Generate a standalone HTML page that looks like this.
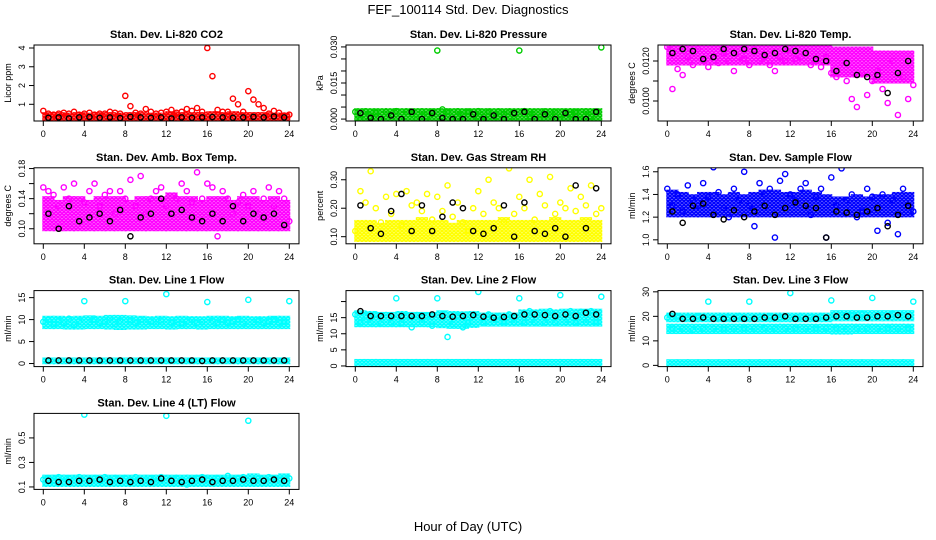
<!DOCTYPE html>
<html><head><meta charset="utf-8"><style>
html,body{margin:0;padding:0;background:#fff;}
svg{display:block;font-family:"Liberation Sans",Arial,sans-serif;}
</style></head><body>
<svg id="chart" width="936" height="540" viewBox="0 0 936 540" xmlns="http://www.w3.org/2000/svg">
<defs id="defs"></defs>
<text x="468" y="14" text-anchor="middle" font-size="13">FEF_100114  Std. Dev. Diagnostics</text>
<text x="468" y="531" text-anchor="middle" font-size="13">Hour of Day (UTC)</text>
</svg>
<script>
// ---- data (scatter sampled every 0.5 h from 0 to 24; black every hour 0.5..23.5; bands per hour) ----
const xTicks=[0,4,8,12,16,20,24];
const co2Pts=[0.65,0.5,0.45,0.5,0.55,0.5,0.6,0.45,0.5,0.55,0.45,0.5,0.5,0.6,0.55,0.5,1.45,0.9,0.55,0.5,0.75,0.6,0.5,0.55,0.6,0.7,0.55,0.6,0.75,0.65,0.8,0.6,4.0,2.5,0.7,0.6,0.6,1.3,1.0,0.6,1.7,1.25,1.0,0.8,0.5,0.65,0.55,0.4,0.45];
const co2Blk=[0.28,0.3,0.25,0.3,0.32,0.28,0.3,0.27,0.33,0.3,0.28,0.3,0.25,0.3,0.28,0.3,0.32,0.3,0.28,0.3,0.33,0.3,0.35,0.3];
const co2Lo=[0.18,0.18,0.18,0.18,0.18,0.18,0.18,0.18,0.18,0.18,0.18,0.18,0.18,0.18,0.18,0.18,0.18,0.18,0.18,0.18,0.18,0.18,0.18,0.18];
const co2Hi=[0.45,0.45,0.42,0.45,0.42,0.45,0.45,0.42,0.45,0.45,0.42,0.42,0.5,0.45,0.45,0.45,0.5,0.45,0.5,0.45,0.45,0.45,0.42,0.42];
const co2Ticks=[1,2,3,4];

const presPts=[0.003,0.0,0.0032,0.001,0.0028,0.0,0.003,0.0015,0.0033,0.0,0.003,0.002,0.0,0.0032,0.001,0.003,0.0285,0.004,0.003,0.0,0.0032,0.0015,0.003,0.0,0.0033,0.001,0.003,0.0,0.0031,0.002,0.003,0.0,0.0285,0.0033,0.001,0.003,0.0,0.0032,0.0015,0.003,0.0,0.0031,0.002,0.003,0.0,0.0032,0.001,0.003,0.0298];
const presBlk=[0.0025,0.0005,0.0,0.0015,0.0,0.003,0.0,0.0025,0.0005,0.0,0.0,0.002,0.0,0.0015,0.0,0.0025,0.003,0.0,0.002,0.0,0.0025,0.0,0.0,0.003];
const presLo=[0,0,0,0,0,0,0,0,0,0,0,0,0,0,0,0,0,0,0,0,0,0,0,0];
const presHi=[0.0035,0.0035,0.0035,0.0035,0.0035,0.0035,0.0035,0.0035,0.0035,0.0035,0.0035,0.0035,0.0035,0.0035,0.0035,0.0035,0.0035,0.0035,0.0035,0.0035,0.0035,0.0035,0.0035,0.0035];
const presTicks=[0,0.005,0.010,0.015,0.020,0.025,0.030];
const presLabels=["0.000","","","0.015","","","0.030"];

const tempPts=[0.0127,0.0106,0.0116,0.0113,0.0122,0.0118,0.0126,0.0120,0.0117,0.0122,0.0119,0.0124,0.0120,0.0115,0.0122,0.0121,0.0118,0.0126,0.0120,0.0122,0.0118,0.0115,0.0122,0.0120,0.0124,0.0121,0.0122,0.0124,0.0118,0.0120,0.0117,0.0122,0.0114,0.0112,0.0119,0.0110,0.0101,0.0097,0.0114,0.0103,0.0110,0.0115,0.0106,0.0099,0.0120,0.0093,0.0112,0.0101,0.0108];
const tempBlk=[0.0124,0.0126,0.0125,0.0121,0.0122,0.0126,0.0124,0.0126,0.0125,0.0123,0.0124,0.0126,0.0125,0.0124,0.0121,0.0120,0.0115,0.0119,0.0113,0.0112,0.0113,0.0104,0.0114,0.0120];
const tempLo=[0.0119,0.0119,0.0119,0.0119,0.0119,0.0119,0.0119,0.0119,0.0119,0.0119,0.0119,0.0119,0.0119,0.0119,0.0119,0.0119,0.0113,0.0113,0.0113,0.0113,0.0110,0.0110,0.0110,0.0110];
const tempHi=[0.0128,0.0128,0.0128,0.0128,0.0128,0.0128,0.0128,0.0128,0.0128,0.0128,0.0128,0.0128,0.0128,0.0128,0.0128,0.0128,0.0126,0.0126,0.0126,0.0126,0.0124,0.0124,0.0124,0.0124];
const tempTicks=[0.0100,0.0110,0.0120];
const tempLabels=["0.0100","","0.0120"];

const ambPts=[0.155,0.15,0.145,0.13,0.155,0.14,0.16,0.11,0.135,0.15,0.16,0.13,0.145,0.15,0.12,0.15,0.14,0.165,0.13,0.17,0.12,0.14,0.15,0.155,0.13,0.12,0.14,0.16,0.15,0.135,0.175,0.14,0.16,0.155,0.09,0.15,0.14,0.12,0.135,0.145,0.13,0.15,0.12,0.14,0.155,0.13,0.15,0.14,0.11];
const ambBlk=[0.12,0.1,0.13,0.11,0.115,0.12,0.11,0.125,0.09,0.115,0.12,0.14,0.12,0.125,0.115,0.11,0.12,0.11,0.13,0.11,0.12,0.115,0.12,0.105];
const ambLo=[0.1,0.1,0.1,0.1,0.1,0.1,0.1,0.1,0.1,0.1,0.1,0.1,0.1,0.1,0.1,0.1,0.1,0.1,0.1,0.1,0.1,0.1,0.1,0.1];
const ambHi=[0.14,0.135,0.14,0.14,0.135,0.14,0.14,0.14,0.135,0.14,0.14,0.14,0.145,0.14,0.14,0.135,0.14,0.14,0.135,0.14,0.14,0.135,0.14,0.135];
const ambTicks=[0.10,0.12,0.14,0.16,0.18];
const ambLabels=["0.10","","0.14","","0.18"];

const rhPts=[0.12,0.26,0.22,0.33,0.2,0.15,0.24,0.18,0.25,0.14,0.26,0.21,0.22,0.19,0.25,0.16,0.24,0.19,0.28,0.17,0.22,0.15,0.12,0.2,0.26,0.18,0.3,0.22,0.2,0.15,0.34,0.18,0.24,0.2,0.3,0.16,0.25,0.21,0.31,0.18,0.22,0.2,0.27,0.19,0.24,0.21,0.28,0.18,0.2];
const rhBlk=[0.21,0.13,0.11,0.19,0.25,0.12,0.21,0.12,0.17,0.22,0.2,0.12,0.11,0.13,0.21,0.1,0.22,0.12,0.11,0.13,0.1,0.28,0.13,0.27];
const rhLo=[0.09,0.09,0.09,0.09,0.09,0.09,0.09,0.09,0.09,0.09,0.09,0.09,0.09,0.09,0.09,0.09,0.09,0.09,0.09,0.09,0.09,0.09,0.09,0.09];
const rhHi=[0.15,0.15,0.14,0.15,0.15,0.15,0.16,0.15,0.15,0.14,0.15,0.15,0.15,0.15,0.16,0.15,0.15,0.15,0.15,0.16,0.15,0.15,0.16,0.15];
const rhTicks=[0.10,0.20,0.30];

const flowPts=[1.45,1.3,1.4,1.25,1.48,1.35,1.3,1.5,1.38,1.64,1.42,1.28,1.2,1.45,1.35,1.6,1.3,1.12,1.5,1.4,1.45,1.02,1.52,1.58,1.4,1.35,1.45,1.5,1.22,1.38,1.45,1.02,1.55,1.3,1.63,1.35,1.4,1.2,1.25,1.45,1.38,1.08,1.4,1.15,1.35,1.05,1.45,1.3,1.25];
const flowBlk=[1.25,1.15,1.3,1.32,1.22,1.18,1.26,1.2,1.25,1.3,1.22,1.28,1.33,1.3,1.28,1.02,1.25,1.24,1.22,1.25,1.28,1.12,1.22,1.3];
const flowLo=[1.22,1.22,1.22,1.22,1.22,1.22,1.22,1.22,1.22,1.22,1.22,1.22,1.22,1.22,1.22,1.22,1.22,1.22,1.22,1.22,1.22,1.22,1.22,1.22];
const flowHi=[1.42,1.4,1.38,1.4,1.4,1.38,1.4,1.38,1.4,1.42,1.42,1.4,1.4,1.42,1.4,1.38,1.36,1.36,1.38,1.36,1.38,1.38,1.4,1.4];
const flowTicks=[1.0,1.2,1.4,1.6];

const l1Pts=[9.5,10,9,9.8,9.2,10.2,8.8,9.6,14.2,9.4,10,9.2,9.5,10.3,9,9.7,14.2,9.8,9.2,10,9.4,9.6,9,9.8,15.8,9.3,9.9,9.1,9.6,10,9.2,9.5,14,9.7,9.2,9.9,9.3,9.6,10,9.1,14.5,9.4,9.8,9.2,9.6,10,9.3,9.5,14.2];
const l1Blk=[0.7,0.7,0.7,0.7,0.7,0.7,0.7,0.7,0.7,0.7,0.7,0.7,0.7,0.7,0.7,0.6,0.7,0.7,0.7,0.7,0.7,0.7,0.7,0.7];
const l1Lo=[8.4,8.4,8.3,8.3,8.4,8.4,8.3,8.2,8.3,8.3,8.4,8.4,8.3,8.4,8.4,8.3,8.4,8.4,8.4,8.4,8.4,8.4,8.4,8.4];
const l1Hi=[10.3,10.3,10.2,10.3,10.4,10.3,10.5,10.5,10.4,10.3,10.2,10.3,10.2,10.3,10.2,10.2,10.3,10.3,10.2,10.3,10.2,10.2,10.3,10.3];
const l1Lo2=[0.4,0.4,0.4,0.4,0.4,0.4,0.4,0.4,0.4,0.4,0.4,0.4,0.4,0.4,0.4,0.4,0.4,0.4,0.4,0.4,0.4,0.4,0.4,0.4];
const l1Hi2=[0.8,0.8,0.8,0.8,0.8,0.8,0.8,0.8,0.8,0.8,0.8,0.8,0.8,0.8,0.8,0.8,0.8,0.8,0.8,0.8,0.8,0.8,0.8,0.8];
const l1Ticks=[0,5,10,15];

const l2Pts=[16,13.5,15.5,13.5,16,13.2,15.8,13.5,21,13.2,15.5,12,15.8,13.5,15.6,12.5,21,16.2,9,13,15.5,12,13.5,15.8,23,13.5,16,13.5,15.5,13.6,16,13.5,21,13.5,17,13.5,16.5,13.5,17,13.5,22,13.6,17,13.5,16.8,13.5,17,13.6,21.5];
const l2Blk=[17,15.5,15.5,15.5,15.5,15.5,15.5,16,15.5,15.3,15.5,15.8,15.3,15,15.2,15.5,16,16,15.8,15.5,16,15.5,16.5,16];
const l2Lo=[12.8,12.8,12.8,12.8,12.8,12.8,12.8,12.8,12.5,12.3,12.3,12.6,13,13,13,13,13,13,13,13,13,13,13,13];
const l2Hi=[16.5,16.3,16,16,16.3,16,16,16,16.5,16.3,16.2,16.3,15.8,15.8,15.8,15.8,16.8,16.8,17,16.8,17,17,17,17];
const l2Lo2=[0.6,0.6,0.6,0.6,0.6,0.6,0.6,0.6,0.6,0.6,0.6,0.6,0.6,0.6,0.6,0.6,0.6,0.6,0.6,0.6,0.6,0.6,0.6,0.6];
const l2Hi2=[1.4,1.4,1.4,1.4,1.4,1.4,1.4,1.4,1.4,1.4,1.4,1.4,1.4,1.4,1.4,1.4,1.4,1.4,1.4,1.4,1.4,1.4,1.4,1.4];
const l2Ticks=[0,5,10,15,20];
const l2Labels=["0","5","10","15",""];

const l3Pts=[19.5,15,20,15,19.5,14.5,20,15,26,15,19.5,14.8,19.5,15,20,15,26,15,19.8,15.2,20,15,19.5,15,29.5,15,20,15,19.8,15,20,15.2,26.5,15,20.5,14.8,20.5,15,21,15,27.5,15,20.5,15,21,15,20.5,15,26];
const l3Blk=[21,19,19,19.5,19,19,19,19,19,19.5,19.5,20,19,19,19,19.5,20,20,19.5,19.5,20,20,20.5,20];
const l3Lo=[13.8,13.8,13.8,13.8,13.8,13.8,13.8,13.8,13.8,13.8,13.8,13.8,13.8,13.8,13.8,13.8,13.6,13.6,13.8,13.8,13.8,13.8,13.8,13.8];
const l3Hi=[16,16,16,16,16,16,16,16,16,16,16,16,16,16,16,16,16,16,16,16,16,16,16,16];
const l3Lo3=[18.6,18.6,18.6,18.6,18.6,18.6,18.6,18.6,18.6,18.6,18.6,18.6,18.6,18.6,18.6,18.6,19,19,19,19,19,19,19,19];
const l3Hi3=[20.5,20.5,20.5,20.5,20.5,20.5,20.5,20.5,20.5,20.5,20.5,20.5,20.5,20.5,20.5,20.5,21.5,21.5,21.5,21.5,21.5,21.5,21.5,21.5];
const l3Lo2=[0.5,0.5,0.5,0.5,0.5,0.5,0.5,0.5,0.5,0.5,0.5,0.5,0.5,0.5,0.5,0.5,0.5,0.5,0.5,0.5,0.5,0.5,0.5,0.5];
const l3Hi2=[1.5,1.5,1.5,1.5,1.5,1.5,1.5,1.5,1.5,1.5,1.5,1.5,1.5,1.5,1.5,1.5,1.5,1.5,1.5,1.5,1.5,1.5,1.5,1.5];
const l3Ticks=[0,10,20,30];

const l4Pts=[0.16,0.17,0.15,0.18,0.14,0.17,0.16,0.18,0.69,0.16,0.17,0.15,0.18,0.16,0.17,0.15,0.17,0.16,0.18,0.15,0.16,0.17,0.14,0.18,0.68,0.16,0.17,0.15,0.12,0.16,0.17,0.18,0.16,0.15,0.17,0.16,0.19,0.16,0.17,0.18,0.64,0.16,0.17,0.15,0.18,0.17,0.16,0.18,0.17];
const l4Blk=[0.15,0.14,0.14,0.15,0.15,0.16,0.14,0.15,0.14,0.15,0.14,0.17,0.15,0.14,0.15,0.16,0.14,0.15,0.15,0.16,0.15,0.15,0.16,0.15];
const l4Lo=[0.12,0.12,0.12,0.12,0.12,0.12,0.12,0.12,0.12,0.12,0.12,0.12,0.12,0.12,0.12,0.12,0.12,0.12,0.12,0.12,0.12,0.12,0.12,0.12];
const l4Hi=[0.18,0.18,0.18,0.18,0.18,0.18,0.18,0.18,0.18,0.18,0.18,0.18,0.18,0.18,0.18,0.18,0.18,0.18,0.18,0.18,0.19,0.18,0.18,0.19];
const l4Ticks=[0.1,0.3,0.5];

// ---- layout ----
const NS="http://www.w3.org/2000/svg";
const svg=document.getElementById('chart');
const defs=document.getElementById('defs');
const rowTop=[45,167.8,290.6,413.4], colLeft=[34,346,658], PW=265, PH=76;
const panels=[
 {id:'co2',title:'Stan. Dev. Li-820 CO2',ylab:'Licor ppm',col:'#ff0000',r:0,c:0,ymin:0.11,ymax:4.16,pts:co2Pts,blk:co2Blk,bands:[[co2Lo,co2Hi]],ticks:co2Ticks,labels:null},
 {id:'pressure',title:'Stan. Dev. Li-820 Pressure',ylab:'kPa',col:'#00cc00',r:0,c:1,ymin:-0.0008,ymax:0.0308,pts:presPts,blk:presBlk,bands:[[presLo,presHi]],ticks:presTicks,labels:presLabels},
 {id:'li-temp',title:'Stan. Dev. Li-820 Temp.',ylab:'degrees C',col:'#ff00ff',r:0,c:2,ymin:0.0090,ymax:0.0128,pts:tempPts,blk:tempBlk,bands:[[tempLo,tempHi]],ticks:tempTicks,labels:tempLabels},
 {id:'amb-temp',title:'Stan. Dev. Amb. Box Temp.',ylab:'degrees C',col:'#ff00ff',r:1,c:0,ymin:0.08,ymax:0.181,pts:ambPts,blk:ambBlk,bands:[[ambLo,ambHi]],ticks:ambTicks,labels:ambLabels},
 {id:'rh',title:'Stan. Dev. Gas Stream RH',ylab:'percent',col:'#ffff00',r:1,c:1,ymin:0.075,ymax:0.342,pts:rhPts,blk:rhBlk,bands:[[rhLo,rhHi]],ticks:rhTicks,labels:["0.10","0.20","0.30"]},
 {id:'sample-flow',title:'Stan. Dev. Sample Flow',ylab:'ml/min',col:'#0000ff',r:1,c:2,ymin:0.965,ymax:1.635,pts:flowPts,blk:flowBlk,bands:[[flowLo,flowHi]],ticks:flowTicks,labels:["1.0","1.2","1.4","1.6"]},
 {id:'line1',title:'Stan. Dev. Line 1 Flow',ylab:'ml/min',col:'#00ffff',r:2,c:0,ymin:-0.7,ymax:16.6,pts:l1Pts,blk:l1Blk,bands:[[l1Lo,l1Hi],[l1Lo2,l1Hi2]],ticks:l1Ticks,labels:null},
 {id:'line2',title:'Stan. Dev. Line 2 Flow',ylab:'ml/min',col:'#00ffff',r:2,c:1,ymin:-0.2,ymax:23.4,pts:l2Pts,blk:l2Blk,bands:[[l2Lo,l2Hi],[l2Lo2,l2Hi2]],ticks:l2Ticks,labels:l2Labels},
 {id:'line3',title:'Stan. Dev. Line 3 Flow',ylab:'ml/min',col:'#00ffff',r:2,c:2,ymin:-0.5,ymax:30.5,pts:l3Pts,blk:l3Blk,bands:[[l3Lo,l3Hi],[l3Lo3,l3Hi3],[l3Lo2,l3Hi2]],ticks:l3Ticks,labels:null},
 {id:'line4',title:'Stan. Dev. Line 4 (LT) Flow',ylab:'ml/min',col:'#00ffff',r:3,c:0,ymin:0.08,ymax:0.70,pts:l4Pts,blk:l4Blk,bands:[[l4Lo,l4Hi]],ticks:l4Ticks,labels:null}
];
function mk(tag,attrs,parent){const e=document.createElementNS(NS,tag);for(const k in attrs)e.setAttribute(k,attrs[k]);(parent||svg).appendChild(e);return e;}

const madePat={};
function pattern(col){
  const id='pat'+col.replace('#','');
  if(!madePat[id]){
    const p=mk('pattern',{id:id,patternUnits:'userSpaceOnUse',width:4,height:3.5},defs);
    mk('rect',{x:0,y:0,width:4,height:3.5,fill:'#fff'},p);
    mk('circle',{cx:2,cy:1.75,r:1.6,fill:'none',stroke:col,'stroke-width':1.3},p);
    mk('circle',{cx:0,cy:0,r:1.6,fill:'none',stroke:col,'stroke-width':1.3},p);
    mk('circle',{cx:4,cy:3.5,r:1.6,fill:'none',stroke:col,'stroke-width':1.3},p);
    mk('circle',{cx:4,cy:0,r:1.6,fill:'none',stroke:col,'stroke-width':1.3},p);
    mk('circle',{cx:0,cy:3.5,r:1.6,fill:'none',stroke:col,'stroke-width':1.3},p);
    madePat[id]=1;
  }
  return 'url(#'+id+')';
}

panels.forEach(p=>{
  const L=colLeft[p.c], T=rowTop[p.r], B=T+PH, R=L+PW;
  const xs=h=>L+9.3+h*10.25;
  const ys=v=>B-(v-p.ymin)/(p.ymax-p.ymin)*PH;
  const g=mk('g',{});
  
  
  const clipId='clip-'+p.id;
  const cp=mk('clipPath',{id:clipId},g);
  mk('rect',{x:L,y:T,width:PW,height:PH},cp);
  const t=mk('text',{x:L+PW/2,y:T-7,'text-anchor':'middle','font-size':'11','font-weight':'bold'},g);
  t.textContent=p.title;
  
  
  const data=mk('g',{'clip-path':'url(#'+clipId+')'},g);
  
  
  const fillP=pattern(p.col);
  p.bands.forEach(b=>{
    b[0].forEach((lo,i)=>{
      const hi=b[1][i];
      const rr=mk('rect',{x:xs(i)-1,y:ys(hi)-2.5,width:xs(i+1)-xs(i)+2,height:ys(lo)-ys(hi)+5,fill:fillP},data);
      
      
    });
  });
  p.pts.forEach((v,i)=>{
    const c=mk('circle',{cx:xs(i*0.5),cy:ys(v),r:2.6,fill:'none',stroke:p.col,'stroke-width':1.4},data);
    
    
  });
  p.blk.forEach((v,i)=>{
    const c=mk('circle',{cx:xs(i+0.5),cy:ys(v),r:2.6,fill:'none',stroke:'#000','stroke-width':1.4},data);
    
    
  });
  const box=mk('rect',{x:L,y:T,width:PW,height:PH,fill:'none',stroke:'#000','stroke-width':1},g);
  
  
  xTicks.forEach(h=>{
    mk('line',{x1:xs(h),x2:xs(h),y1:B,y2:B+5,stroke:'#000'},g);
    const tl=mk('text',{x:xs(h),y:B+16,'text-anchor':'middle','font-size':'9'},g);
    tl.textContent=h;
    
    
  });
  p.ticks.forEach((v,i)=>{
    const y=ys(v);
    mk('line',{x1:L-5,x2:L,y1:y,y2:y,stroke:'#000'},g);
    const lab=p.labels?p.labels[i]:String(v);
    if(lab){
      const tl=mk('text',{x:L-9,y:y,'text-anchor':'middle','font-size':'9',transform:'rotate(-90 '+(L-9)+' '+y+')'},g);
      tl.textContent=lab;
      
      
    }
  });
  const yt=mk('text',{x:L-23,y:T+PH/2,'text-anchor':'middle','font-size':'9',transform:'rotate(-90 '+(L-23)+' '+(T+PH/2)+')'},g);
  yt.textContent=p.ylab;
  
  
});
</script>
</body></html>
